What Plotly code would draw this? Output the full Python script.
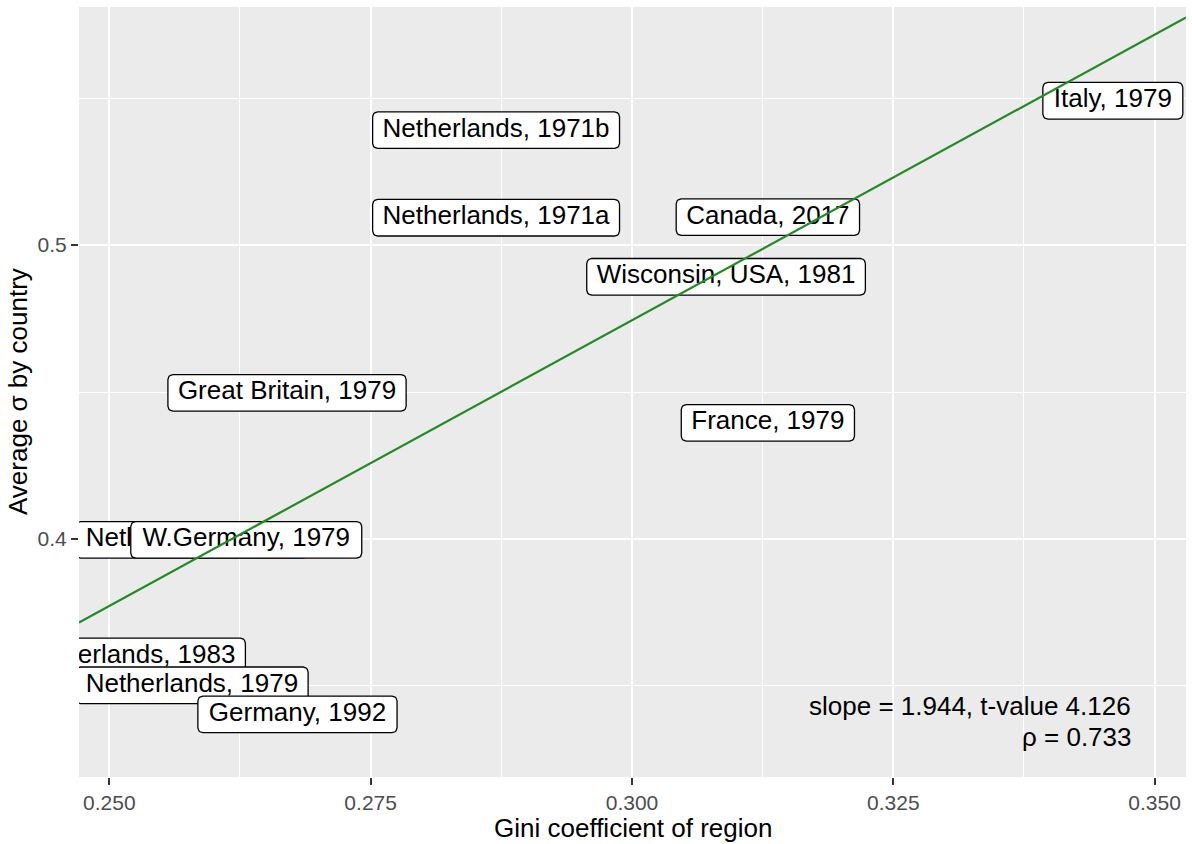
import numpy as np
import plotly.graph_objects as go

# label data (drawing order matters: later labels sit on top)
labels = ["Italy, 1979", "Netherlands, 1971a", "Netherlands, 1971b", "Canada, 2017",
          "Wisconsin, USA, 1981", "Great Britain, 1979", "France, 1979",
          "Netherlands, 1975", "W.Germany, 1979", "Netherlands, 1983",
          "Netherlands, 1979", "Germany, 1992"]
gini = [0.3460, 0.2870, 0.2870, 0.3130, 0.3090, 0.2670, 0.3130,
        0.2579, 0.2631, 0.2519, 0.2579, 0.2680]
sigma = [0.5491, 0.5093, 0.5391, 0.5095, 0.4892, 0.4497, 0.4395,
         0.3997, 0.3997, 0.3600, 0.3502, 0.3403]

slope = 1.944
intercept = -0.1088
stats_text = ["slope = 1.944, t-value 4.126", "ρ = 0.733"]

x_ticks = [0.250, 0.275, 0.300, 0.325, 0.350]
y_ticks = [0.4, 0.5]

x_range = [0.2471, 0.3530]
y_range = [0.3190, 0.5810]

W, H = 1192, 844
margin = dict(l=79, r=6, t=7, b=67)
plot_w = W - margin["l"] - margin["r"]
plot_h = H - margin["t"] - margin["b"]
px_x = plot_w / (x_range[1] - x_range[0])
px_y = plot_h / (y_range[1] - y_range[0])

FONT = "Liberation Sans, Arial, Helvetica, sans-serif"
LABEL_SIZE = 26

# Arial advance widths (per 1000 em) to size the label boxes
ARIAL = {' ': 278, ',': 278, '.': 278, 'A': 667, 'B': 667, 'C': 722, 'F': 611,
         'G': 778, 'I': 278, 'N': 722, 'S': 667, 'U': 722, 'W': 944,
         'a': 556, 'b': 556, 'c': 500, 'd': 556, 'e': 556, 'h': 556, 'i': 222,
         'l': 222, 'm': 833, 'n': 556, 'o': 556, 'r': 333, 's': 500, 't': 278,
         'y': 500}


def text_px(s, size):
    return sum(ARIAL.get(c, 556) for c in s) * size / 1000.0


def rounded_box(cx, cy, half_w_px, half_h_px, r_px=5):
    # polygon in data coords for a rounded rectangle around (cx, cy)
    xs, ys = [], []
    corners = [(half_w_px - r_px, half_h_px - r_px, 0),
               (-(half_w_px - r_px), half_h_px - r_px, 90),
               (-(half_w_px - r_px), -(half_h_px - r_px), 180),
               (half_w_px - r_px, -(half_h_px - r_px), 270)]
    for ox, oy, a0 in corners:
        for a in np.linspace(a0, a0 + 90, 6):
            t = np.radians(a)
            xs.append(cx + (ox + r_px * np.cos(t)) / px_x)
            ys.append(cy + (oy + r_px * np.sin(t)) / px_y)
    xs.append(xs[0])
    ys.append(ys[0])
    return xs, ys


fig = go.Figure()

for lab, gx, sy in zip(labels, gini, sigma):
    hw = text_px(lab, LABEL_SIZE) / 2 + 10
    bx, by = rounded_box(gx, sy, hw, 18.3)
    fig.add_trace(go.Scatter(x=bx, y=by, mode="lines", fill="toself",
                             fillcolor="white", line=dict(color="black", width=1.3),
                             hoverinfo="skip", showlegend=False))
    fig.add_trace(go.Scatter(x=[gx], y=[sy], mode="text", text=[lab],
                             textposition="middle center", cliponaxis=True,
                             textfont=dict(family=FONT, size=LABEL_SIZE, color="black"),
                             hoverinfo="skip", showlegend=False))

# regression line across the full panel
fig.add_trace(go.Scatter(x=x_range,
                         y=[intercept + slope * x_range[0], intercept + slope * x_range[1]],
                         mode="lines", line=dict(color="#228B22", width=2.2),
                         hoverinfo="skip", showlegend=False))

axis_common = dict(showline=False, zeroline=False, automargin=False,
                   ticks="outside", ticklen=7, tickwidth=2, tickcolor="#333333",
                   tickfont=dict(family=FONT, size=21, color="#4D4D4D"),
                   gridcolor="white", gridwidth=2)

fig.update_xaxes(range=x_range, tickvals=x_ticks, tickformat=".3f",
                 minor=dict(tickvals=[0.2625, 0.2875, 0.3125, 0.3375],
                            showgrid=True, gridcolor="white", gridwidth=1, ticks=""),
                 **axis_common)
fig.update_yaxes(range=y_range, tickvals=y_ticks, tickformat=".1f",
                 minor=dict(tickvals=[0.35, 0.45, 0.55],
                            showgrid=True, gridcolor="white", gridwidth=1, ticks=""),
                 **axis_common)

annotations = [
    dict(text="Gini coefficient of region", xref="paper", yref="paper",
         x=0.5, y=-0.0662, xanchor="center", yanchor="middle", showarrow=False,
         font=dict(family=FONT, size=26, color="black")),
    dict(text="Average σ by country", xref="paper", yref="paper",
         x=-0.0551, y=0.5, xanchor="center", yanchor="middle", showarrow=False,
         textangle=-90, font=dict(family=FONT, size=26, color="black")),
    dict(text=stats_text[0], xref="paper", yref="paper", x=0.9524, y=0.0916,
         xanchor="right", yanchor="middle", showarrow=False,
         font=dict(family=FONT, size=26, color="black")),
    dict(text=stats_text[1], xref="paper", yref="paper", x=0.9524, y=0.052,
         xanchor="right", yanchor="middle", showarrow=False,
         font=dict(family=FONT, size=26, color="black")),
]

fig.update_layout(width=W, height=H, margin=margin,
                  plot_bgcolor="#EBEBEB", paper_bgcolor="white",
                  showlegend=False, annotations=annotations,
                  hovermode=False)

fig.write_html("out.html", config={"displayModeBar": False},
               post_script="document.body.style.margin='0';")
